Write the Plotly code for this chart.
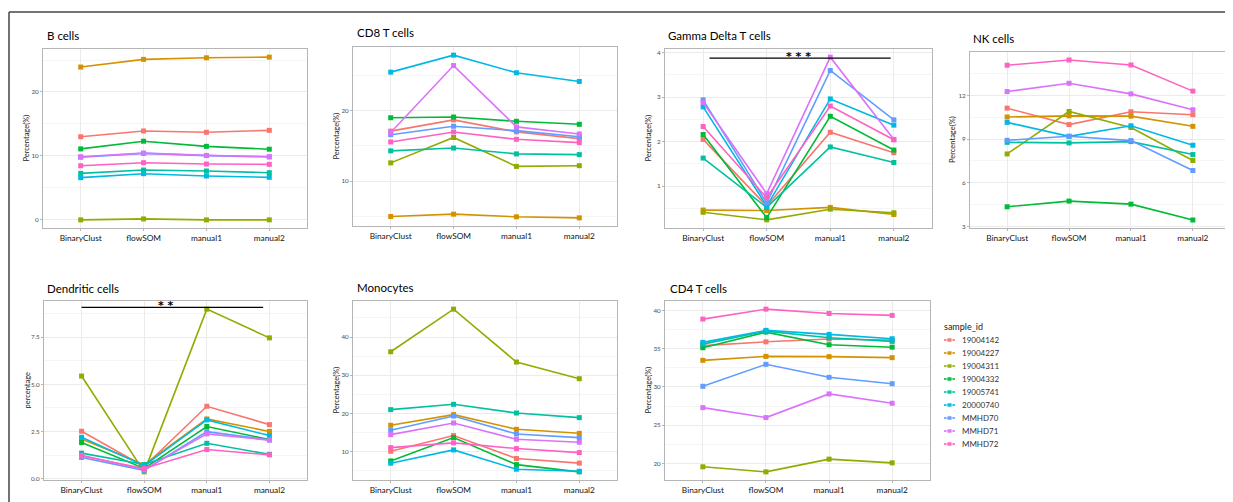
import plotly.graph_objects as go

# the page body adds an 8px margin, so the figure is drawn 8px in from the window edge
OFF = 8
W, H = 1233 - OFF, 502 - OFF


def fx(px):
    return (px - OFF) / W


def fy(py):
    return 1 - (py - OFF) / H


methods = ["BinaryClust", "flowSOM", "manual1", "manual2"]
samples = ["19004142", "19004227", "19004311", "19004332", "19005741",
           "20000740", "MMHD70", "MMHD71", "MMHD72"]
colors = ["#F8766D", "#D39200", "#93AA00", "#00BA38", "#00C19F",
          "#00B9E3", "#619CFF", "#DB72FB", "#FF61C3"]

# values per sample (order of `samples`), per method (order of `methods`)
b_cells = [
    [13.0, 13.9, 13.7, 14.0],
    [23.9, 25.1, 25.35, 25.45],
    [0.0, 0.15, 0.0, 0.0],
    [11.1, 12.3, 11.5, 11.05],
    [7.27, 7.79, 7.64, 7.38],
    [6.6, 7.22, 6.86, 6.65],
    [9.8, 10.4, 10.05, 9.85],
    [9.87, 10.44, 10.08, 9.87],
    [8.47, 8.94, 8.73, 8.68],
]
cd8_t_cells = [
    [17.1, 18.7, 17.0, 16.04],
    [5.0, 5.33, 4.95, 4.8],
    [12.6, 16.2, 12.1, 12.2],
    [19.0, 19.1, 18.5, 18.07],
    [14.3, 14.7, 13.87, 13.77],
    [25.47, 27.88, 25.38, 24.15],
    [16.6, 17.8, 17.17, 16.3],
    [16.9, 26.4, 17.7, 16.7],
    [15.57, 16.98, 15.94, 15.47],
]
gamma_delta_t_cells = [
    [2.05, 0.55, 2.21, 1.75],
    [0.46, 0.45, 0.52, 0.36],
    [0.41, 0.24, 0.48, 0.40],
    [2.16, 0.29, 2.57, 1.81],
    [1.63, 0.52, 1.88, 1.53],
    [2.78, 0.55, 2.96, 2.37],
    [2.94, 0.62, 3.60, 2.49],
    [2.88, 0.83, 3.90, 2.05],
    [2.34, 0.74, 2.80, 2.04],
]
nk_cells = [
    [11.13, 10.0, 10.88, 10.68],
    [10.52, 10.6, 10.58, 9.88],
    [7.98, 10.9, 9.8, 7.53],
    [4.35, 4.74, 4.53, 3.44],
    [8.78, 8.74, 8.83, 7.94],
    [10.15, 9.19, 9.92, 8.58],
    [8.92, 9.2, 8.9, 6.84],
    [12.27, 12.84, 12.11, 11.02],
    [14.08, 14.44, 14.1, 12.3],
]
dendritic_cells = [
    [2.52, 0.65, 3.84, 2.87],
    [2.11, 0.75, 3.17, 2.51],
    [5.44, 0.37, 8.98, 7.46],
    [1.92, 0.55, 2.77, 2.08],
    [1.36, 0.76, 1.88, 1.30],
    [2.20, 0.70, 3.12, 2.29],
    [1.13, 0.45, 2.50, 2.06],
    [1.25, 0.50, 2.38, 2.05],
    [1.21, 0.55, 1.55, 1.27],
]
monocytes = [
    [10.1, 14.2, 8.2, 7.0],
    [16.9, 19.69, 15.85, 14.8],
    [36.16, 47.32, 33.46, 29.1],
    [7.57, 13.7, 6.6, 4.7],
    [21.0, 22.39, 20.12, 18.9],
    [6.96, 10.45, 5.4, 4.86],
    [15.59, 19.34, 14.63, 13.67],
    [14.45, 17.5, 13.24, 12.45],
    [11.05, 12.3, 10.8, 9.75],
]
cd4_t_cells = [
    [35.4, 35.9, 36.26, 36.13],
    [33.48, 34.0, 33.96, 33.83],
    [19.57, 18.91, 20.57, 20.09],
    [35.13, 37.17, 35.52, 35.2],
    [35.6, 37.3, 36.43, 35.96],
    [35.83, 37.4, 36.87, 36.3],
    [30.09, 32.96, 31.26, 30.43],
    [27.3, 26.0, 29.09, 27.87],
    [38.87, 40.17, 39.6, 39.35],
]

panel_titles = ["B cells", "CD8 T cells", "Gamma Delta T cells", "NK cells",
                "Dendritic cells", "Monocytes", "CD4 T cells"]
panel_data = [b_cells, cd8_t_cells, gamma_delta_t_cells, nk_cells,
              dendritic_cells, monocytes, cd4_t_cells]
panel_ylabels = ["Percentage(%)", "Percentage(%)", "Percentage(%)", "Percentage(%)",
                 "percentage", "Percentage(%)", "Percentage(%)"]
panel_dticks = [10, 10, 1, 3, 2.5, 10, 5]

# significance bars
sig_panels = [2, 4]
sig_starts = [0.1, 0.0]
sig_ends = [2.95, 2.9]
sig_levels = [3.88, 9.07]
sig_labels = ["* * *", "* *"]
sig_label_x = [1.5, 1.35]

legend_title = "sample_id"

# layout (window pixels): plot area boxes and title positions
boxes = [(43, 307, 49, 228), (353, 617, 47, 226), (665, 932, 49, 228),
         (970, 1230, 52, 228), (44, 307, 301, 480), (353, 617, 301, 480),
         (665, 930, 301, 480)]
title_pos = [(45, 36), (355, 33), (666, 35), (971, 39),
             (45, 288), (355, 287), (668, 288)]

fig = go.Figure()
layout = {}
annotations = []
shapes = []

FONT = "Lato"
for p, (title, data) in enumerate(zip(panel_titles, panel_data)):
    n = p + 1
    xa = "x" if n == 1 else f"x{n}"
    ya = "y" if n == 1 else f"y{n}"
    for s, (name, col) in enumerate(zip(samples, colors)):
        fig.add_trace(go.Scatter(
            x=methods, y=data[s], mode="lines+markers", name=name,
            showlegend=False,
            line=dict(color=col, width=1.6),
            marker=dict(color=col, size=5, symbol="square"),
            xaxis=xa, yaxis=ya))
    allv = [v for row in data for v in row]
    lo, hi = min(allv), max(allv)
    pad = (hi - lo) * 0.05
    x0, x1, y0, y1 = boxes[p]
    layout[f"xaxis{n}" if n > 1 else "xaxis"] = dict(
        domain=[fx(x0), fx(x1)], anchor=ya, type="category", automargin=False,
        categoryorder="array", categoryarray=methods, range=[-0.6, 3.6],
        showgrid=True, gridcolor="#ebebeb", gridwidth=1,
        showline=True, linecolor="#b5b5b5", linewidth=1, mirror=True,
        ticks="outside", ticklen=2, tickcolor="#b5b5b5",
        tickfont=dict(family=FONT, size=8.3, color="#111"), zeroline=False)
    layout[f"yaxis{n}" if n > 1 else "yaxis"] = dict(
        domain=[fy(y1), fy(y0)], anchor=xa, automargin=False,
        range=[lo - pad, hi + pad], dtick=panel_dticks[p], tick0=0,
        tickformat=".1f" if panel_dticks[p] == 2.5 else "",
        showgrid=True, gridcolor="#ebebeb", gridwidth=1,
        minor=dict(dtick=panel_dticks[p] / 2, showgrid=True,
                   gridcolor="#f5f5f5", ticks=""),
        showline=True, linecolor="#b5b5b5", linewidth=1, mirror=True,
        ticks="outside", ticklen=2, tickcolor="#b5b5b5",
        tickfont=dict(family=FONT, size=6.3, color="#4d4d4d"), zeroline=False)
    # y-axis title
    annotations.append(dict(text=panel_ylabels[p], xref="paper", yref="paper",
                            x=fx(x0 - 17), y=(fy(y0) + fy(y1)) / 2, textangle=-90,
                            xanchor="center", yanchor="middle", showarrow=False,
                            font=dict(family=FONT, size=7.5, color="#1a1a1a")))
    tx, ty = title_pos[p]
    annotations.append(dict(text=title, xref="paper", yref="paper",
                            x=fx(tx), y=fy(ty), xanchor="left", yanchor="middle",
                            showarrow=False, font=dict(family=FONT, size=11.5, color="#000")))

for k, p in enumerate(sig_panels):
    n = p + 1
    xa = "x" if n == 1 else f"x{n}"
    ya = "y" if n == 1 else f"y{n}"
    shapes.append(dict(type="line", xref=xa, yref=ya, x0=sig_starts[k], x1=sig_ends[k],
                       y0=sig_levels[k], y1=sig_levels[k],
                       line=dict(color="#000", width=1.2)))
    annotations.append(dict(text=f"<b>{sig_labels[k]}</b>", xref=xa, yref=ya,
                            x=sig_label_x[k], y=sig_levels[k], xanchor="center",
                            yanchor="bottom", yshift=-7, showarrow=False,
                            font=dict(family="DejaVu Sans", size=11, color="#000")))

# legend key drawn in its own small axis: one row per sample
LX0, LX1, LT, LB = 944, 955, 330, 450
row0, row_h = 340, 13
layout["xaxis8"] = dict(domain=[fx(LX0), fx(LX1)], anchor="y8", range=[0, 1],
                        visible=False, automargin=False)
layout["yaxis8"] = dict(domain=[fy(LB), fy(LT)], anchor="x8",
                        range=[(LB - row0) / row_h, (LT - row0) / row_h],
                        visible=False, automargin=False)
for s, (name, col) in enumerate(zip(samples, colors)):
    fig.add_trace(go.Scatter(
        x=[0, 0.5, 1], y=[s, s, s], mode="lines+markers", showlegend=False,
        line=dict(color=col, width=1.6),
        marker=dict(color=col, size=[0, 5, 0], symbol="square"),
        xaxis="x8", yaxis="y8", hoverinfo="skip"))
    annotations.append(dict(text=name, xref="paper", yref="y8", x=fx(960), y=s,
                            xanchor="left", yanchor="middle", showarrow=False,
                            font=dict(family=FONT, size=8, color="#333")))
annotations.append(dict(text=legend_title, xref="paper", yref="paper", x=fx(942),
                        y=fy(326), xanchor="left", yanchor="middle", showarrow=False,
                        font=dict(family=FONT, size=9, color="#1a1a1a")))

# outer frame (top and left edges)
shapes.append(dict(type="line", xref="paper", yref="paper", x0=fx(9), x1=1,
                   y0=fy(12), y1=fy(12), line=dict(color="#444", width=1.5)))
shapes.append(dict(type="line", xref="paper", yref="paper", x0=fx(9), x1=fx(9),
                   y0=0, y1=fy(12), line=dict(color="#444", width=1.5)))

fig.update_layout(
    width=W, height=H, margin=dict(l=0, r=0, t=0, b=0),
    paper_bgcolor="white", plot_bgcolor="white", showlegend=False,
    annotations=annotations, shapes=shapes,
    **layout)

fig.write_html("out.html")
